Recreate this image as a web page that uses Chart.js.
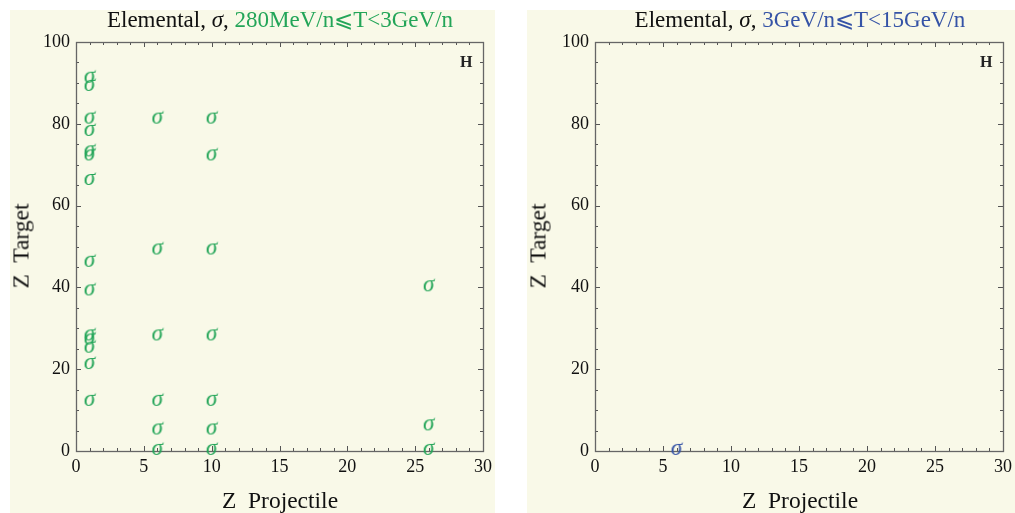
<!DOCTYPE html>
<html>
<head>
<meta charset="utf-8">
<script src="https://cdn.jsdelivr.net/npm/chart.js@4.4.0/dist/chart.umd.min.js"></script>
<style>
  body { margin:0; width:1015px; height:513px; background:#fff; position:relative; overflow:hidden; font-family:"Liberation Serif", "DejaVu Serif", serif; }
  .panel { position:absolute; top:10px; height:503px; background:#f9f9e8; }
  #p1 { left:10px; width:485px; }
  #p2 { left:527px; width:488px; }
  .panel canvas { position:absolute; left:0; top:0; }
  .ttl { position:absolute; top:-2px; font-size:23px; line-height:23px; text-align:center; white-space:nowrap; color:#111; }
  .xt { position:absolute; top:479px; font-size:23.5px; line-height:23px; text-align:center; white-space:nowrap; color:#111; }
  .yt { position:absolute; left:11px; top:236px; font-size:23.5px; line-height:23px; white-space:nowrap; color:#111;
        transform:translate(-50%,-50%) rotate(-90deg); }
  .hl { position:absolute; top:43px; font-size:16px; font-weight:bold; color:#222; }
</style>
</head>
<body>
<div class="panel" id="p1">
  <canvas id="c1" width="485" height="503"></canvas>
  <div class="ttl" style="left:66px;width:408px">Elemental, <i>σ</i>, <span style="color:#23a558">280MeV/n⩽T&lt;3GeV/n</span></div>
  <div class="xt" style="left:66px;width:408px">Z&nbsp; Projectile</div>
  <div class="yt">Z&nbsp; Target</div>
  <div class="hl" style="left:450px">H</div>
</div>
<div class="panel" id="p2">
  <canvas id="c2" width="488" height="503"></canvas>
  <div class="ttl" style="left:68px;width:410px">Elemental, <i>σ</i>, <span style="color:#3553a6">3GeV/n⩽T&lt;15GeV/n</span></div>
  <div class="xt" style="left:68px;width:410px">Z&nbsp; Projectile</div>
  <div class="yt">Z&nbsp; Target</div>
  <div class="hl" style="left:453px">H</div>
</div>
<script>
// --- datos ---
// 280MeV/n - 3GeV/n : proyectil Z -> lista de blancos Z
const projLow = [1, 6, 10, 26];
const targetsZ1 = [92, 90, 82, 79, 74, 73, 67, 47, 40, 29, 28, 26, 22, 13];
const targetsZ6 = [82, 50, 29, 13, 6, 1];
const targetsZ10 = [82, 73, 50, 29, 13, 6, 1];
const targetsZ26 = [41, 7, 1];
// 3GeV/n - 15GeV/n
const projHigh = [6];
const targetsHigh = [1];

const xTicks = [0, 5, 10, 15, 20, 25, 30];
const yTicks = [0, 20, 40, 60, 80, 100];

const GREEN = '#23a558';
const BLUE = '#3553a6';

// simbolo sigma como pointStyle
function sigmaGlyph(color) {
  const c = document.createElement('canvas');
  c.width = 26; c.height = 26;
  const g = c.getContext('2d');
  g.fillStyle = color;
  g.font = 'italic 23px "Liberation Serif", serif';
  g.textAlign = 'center';
  g.textBaseline = 'alphabetic';
  g.fillText('σ', 13, 20.5);
  return c;
}

function buildPoints(projs, lists) {
  const pts = [];
  projs.forEach((p, i) => lists[i].forEach(t => pts.push({ x: p, y: t })));
  return pts;
}

// marco y marcas hacia adentro (estilo Mathematica)
const frameTicks = {
  id: 'frameTicks',
  beforeDatasetsDraw(chart) {
    const { ctx, chartArea: a, scales: { x, y } } = chart;
    ctx.save();
    ctx.strokeStyle = '#555';
    ctx.lineWidth = 1;
    ctx.beginPath();
    for (let v = 0; v <= 30; v++) {
      const px = Math.round(x.getPixelForValue(v)) + 0.5;
      const len = v % 5 === 0 ? 5 : 3;
      ctx.moveTo(px, a.bottom); ctx.lineTo(px, a.bottom - len);
      ctx.moveTo(px, a.top); ctx.lineTo(px, a.top + len);
    }
    for (let v = 0; v <= 100; v += 5) {
      const py = Math.round(y.getPixelForValue(v)) + 0.5;
      const len = v % 20 === 0 ? 5 : 3;
      ctx.moveTo(a.left, py); ctx.lineTo(a.left + len, py);
      ctx.moveTo(a.right, py); ctx.lineTo(a.right - len, py);
    }
    ctx.stroke();
    ctx.strokeStyle = '#666';
    ctx.lineWidth = 1.3;
    ctx.strokeRect(Math.round(a.left) + 0.5, Math.round(a.top) + 0.5, Math.round(a.right - a.left), Math.round(a.bottom - a.top));
    ctx.restore();
  }
};

function makeChart(id, points, color, leftW, rightPad) {
  return new Chart(document.getElementById(id), {
    type: 'scatter',
    data: {
      datasets: [{
        data: points,
        pointStyle: sigmaGlyph(color),
        pointRadius: 11,
        clip: false
      }]
    },
    options: {
      responsive: false,
      animation: false,
      events: [],
      layout: { padding: { left: 0, top: 32, right: rightPad, bottom: 0 } },
      plugins: { legend: { display: false }, tooltip: { enabled: false } },
      scales: {
        x: {
          type: 'linear', min: 0, max: 30,
          afterFit: s => { s.height = 62; s.paddingLeft = 0; s.paddingRight = 0; },
          afterBuildTicks: s => { s.ticks = xTicks.map(v => ({ value: v })); },
          grid: { display: false, drawTicks: false },
          border: { display: false },
          ticks: { padding: 5, color: '#111', maxRotation: 0, font: { family: '"Liberation Serif", serif', size: 18 } }
        },
        y: {
          type: 'linear', min: 0, max: 100,
          afterFit: s => { s.width = leftW; s.paddingTop = 0; s.paddingBottom = 0; },
          afterBuildTicks: s => { s.ticks = yTicks.map(v => ({ value: v })); },
          grid: { display: false, drawTicks: false },
          border: { display: false },
          ticks: { padding: 6, color: '#111', font: { family: '"Liberation Serif", serif', size: 18 } }
        }
      }
    },
    plugins: [frameTicks]
  });
}

makeChart('c1', buildPoints(projLow, [targetsZ1, targetsZ6, targetsZ10, targetsZ26]), GREEN, 66, 11);
makeChart('c2', buildPoints(projHigh, [targetsHigh]), BLUE, 68, 10);
</script>
</body>
</html>
